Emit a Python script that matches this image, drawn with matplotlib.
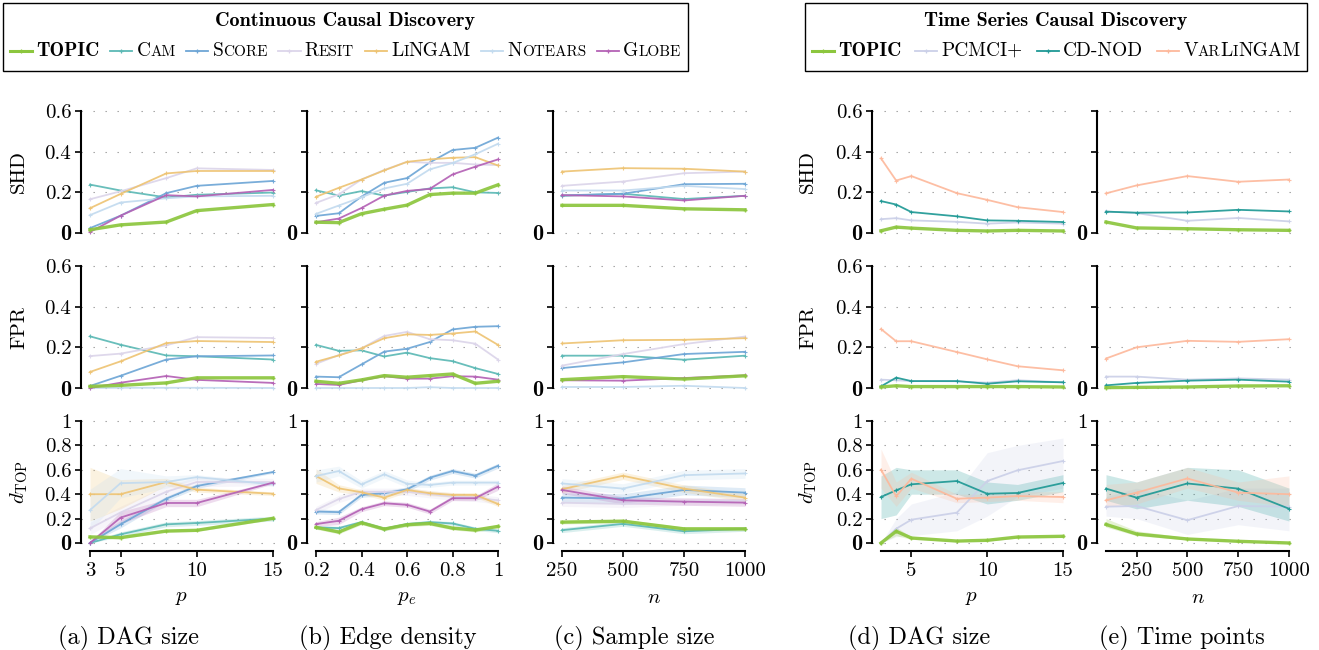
import numpy as np
import matplotlib
matplotlib.use("Agg")
import matplotlib.pyplot as plt
from itertools import groupby
from matplotlib.patches import Rectangle
from matplotlib.lines import Line2D
from matplotlib.offsetbox import (AnchoredOffsetbox, HPacker, TextArea,
                                  DrawingArea)

plt.rcParams['font.family'] = 'cmr10'
plt.rcParams['mathtext.fontset'] = 'cm'
plt.rcParams['axes.unicode_minus'] = False
plt.rcParams['axes.formatter.use_mathtext'] = True

W, H = 1319, 650

# ---- x values of each study
p_sizes = [3, 5, 8, 10, 15]
edge_density = [0.2, 0.3, 0.4, 0.5, 0.6, 0.7, 0.8, 0.9, 1.0]
sample_sizes = [250, 500, 750, 1000]
ts_p_sizes = [3, 4, 5, 8, 10, 12, 15]
ts_points = [100, 250, 500, 750, 1000]

cont_methods = ['TOPIC', 'Cam', 'Score', 'Resit', 'LiNGAM', 'Notears', 'Globe']
ts_methods = ['TOPIC', 'PCMCI+', 'CD-NOD', 'VarLiNGAM']

colors = {'TOPIC': '#8cc63e', 'Cam': '#5cb9b5', 'Score': '#6ea6d6',
          'Resit': '#dcd5ea', 'LiNGAM': '#eec474', 'Notears': '#c3dbef',
          'Globe': '#b462b5', 'PCMCI+': '#cbd0e8', 'CD-NOD': '#1f9995',
          'VarLiNGAM': '#fdb99c'}

# ---- (a) DAG size
shd_a = {'TOPIC': [0.016, 0.04, 0.054, 0.11, 0.14],
         'Cam': [0.238, 0.209, 0.175, 0.188, 0.199],
         'Score': [0.024, 0.085, 0.196, 0.232, 0.256],
         'Resit': [0.166, 0.205, 0.27, 0.318, 0.31],
         'LiNGAM': [0.122, 0.192, 0.293, 0.305, 0.305],
         'Notears': [0.088, 0.15, 0.171, 0.18, 0.183],
         'Globe': [0.005, 0.085, 0.186, 0.18, 0.212]}
fpr_a = {'TOPIC': [0.008, 0.013, 0.025, 0.05, 0.05],
         'Cam': [0.254, 0.213, 0.16, 0.156, 0.14],
         'Score': [0.01, 0.06, 0.14, 0.156, 0.16],
         'Resit': [0.157, 0.169, 0.21, 0.25, 0.246],
         'LiNGAM': [0.079, 0.131, 0.221, 0.231, 0.226],
         'Notears': [0.0, 0.001, 0.001, 0.001, 0.0],
         'Globe': [0.0, 0.026, 0.059, 0.04, 0.025]}
dtop_a = {'TOPIC': [0.05, 0.044, 0.098, 0.104, 0.202],
          'Cam': [0.0, 0.071, 0.153, 0.164, 0.2],
          'Score': [0.0, 0.153, 0.363, 0.467, 0.582],
          'Resit': [0.12, 0.25, 0.42, 0.5, 0.5],
          'LiNGAM': [0.40, 0.40, 0.50, 0.437, 0.404],
          'Notears': [0.27, 0.49, 0.5, 0.54, 0.48],
          'Globe': [0.0, 0.208, 0.328, 0.328, 0.495]}
spread_a = {'TOPIC': [0.01, 0.01, 0.01, 0.01, 0.01],
            'Cam': [0.01, 0.02, 0.02, 0.02, 0.02],
            'Score': [0.03, 0.03, 0.02, 0.02, 0.01],
            'Resit': [0.05, 0.05, 0.05, 0.04, 0.03],
            'LiNGAM': [0.22, 0.12, 0.03, 0.02, 0.015],
            'Notears': [0.17, 0.12, 0.05, 0.02, 0.015],
            'Globe': [0.01, 0.05, 0.03, 0.03, 0.01]}

# ---- (b) Edge density
shd_b = {'TOPIC': [0.053, 0.051, 0.095, 0.117, 0.137, 0.189, 0.196, 0.196, 0.237],
         'Cam': [0.21, 0.184, 0.206, 0.184, 0.202, 0.219, 0.225, 0.2, 0.197],
         'Score': [0.084, 0.097, 0.179, 0.247, 0.27, 0.347, 0.408, 0.419, 0.469],
         'Resit': [0.148, 0.19, 0.263, 0.31, 0.35, 0.345, 0.345, 0.337, 0.334],
         'LiNGAM': [0.178, 0.222, 0.263, 0.308, 0.35, 0.362, 0.37, 0.373, 0.332],
         'Notears': [0.094, 0.135, 0.176, 0.219, 0.242, 0.313, 0.344, 0.387, 0.439],
         'Globe': [0.053, 0.071, 0.123, 0.184, 0.207, 0.217, 0.288, 0.326, 0.362]}
fpr_b = {'TOPIC': [0.033, 0.023, 0.04, 0.061, 0.053, 0.061, 0.069, 0.023, 0.033],
         'Cam': [0.212, 0.183, 0.185, 0.155, 0.174, 0.147, 0.132, 0.098, 0.069],
         'Score': [0.056, 0.053, 0.116, 0.179, 0.193, 0.226, 0.288, 0.301, 0.304],
         'Resit': [0.119, 0.162, 0.195, 0.256, 0.276, 0.24, 0.235, 0.218, 0.14],
         'LiNGAM': [0.129, 0.16, 0.195, 0.245, 0.264, 0.261, 0.268, 0.278, 0.212],
         'Notears': [0.0, 0.0, 0.0, 0.0, 0.0, 0.004, 0.0, 0.0, 0.0],
         'Globe': [0.02, 0.015, 0.038, 0.058, 0.046, 0.046, 0.058, 0.056, 0.041]}
dtop_b = {'TOPIC': [0.128, 0.09, 0.166, 0.114, 0.15, 0.16, 0.122, 0.106, 0.136],
          'Cam': [0.128, 0.122, 0.171, 0.117, 0.155, 0.171, 0.16, 0.117, 0.1],
          'Score': [0.258, 0.253, 0.394, 0.408, 0.44, 0.535, 0.59, 0.552, 0.633],
          'Resit': [0.27, 0.36, 0.42, 0.42, 0.42, 0.40, 0.38, 0.37, 0.35],
          'LiNGAM': [0.549, 0.448, 0.416, 0.372, 0.435, 0.408, 0.394, 0.394, 0.32],
          'Notears': [0.549, 0.59, 0.48, 0.563, 0.486, 0.476, 0.495, 0.495, 0.495],
          'Globe': [0.155, 0.182, 0.277, 0.326, 0.313, 0.258, 0.367, 0.367, 0.462]}
spread_b = {'TOPIC': [0.015] * 9,
            'Cam': [0.015] * 9,
            'Score': [0.02] * 9,
            'Resit': [0.03] * 9,
            'LiNGAM': [0.06, 0.03, 0.02, 0.02, 0.02, 0.02, 0.02, 0.02, 0.02],
            'Notears': [0.05, 0.04, 0.03, 0.03, 0.03, 0.02, 0.02, 0.02, 0.02],
            'Globe': [0.02, 0.03, 0.02, 0.02, 0.02, 0.02, 0.02, 0.02, 0.03]}

# ---- (c) Sample size
shd_c = {'TOPIC': [0.136, 0.136, 0.119, 0.114],
         'Cam': [0.183, 0.193, 0.167, 0.183],
         'Score': [0.185, 0.193, 0.24, 0.242],
         'Resit': [0.232, 0.253, 0.294, 0.302],
         'LiNGAM': [0.302, 0.319, 0.316, 0.302],
         'Notears': [0.209, 0.209, 0.232, 0.216],
         'Globe': [0.186, 0.18, 0.16, 0.183]}
fpr_c = {'TOPIC': [0.041, 0.056, 0.044, 0.06],
         'Cam': [0.159, 0.159, 0.139, 0.159],
         'Score': [0.098, 0.126, 0.167, 0.178],
         'Resit': [0.11, 0.167, 0.216, 0.253],
         'LiNGAM': [0.219, 0.235, 0.237, 0.245],
         'Notears': [0.005, 0.005, 0.011, 0.0],
         'Globe': [0.038, 0.036, 0.049, 0.062]}
dtop_c = {'TOPIC': [0.171, 0.179, 0.116, 0.116],
          'Cam': [0.105, 0.157, 0.096, 0.116],
          'Score': [0.372, 0.364, 0.435, 0.413],
          'Resit': [0.33, 0.32, 0.34, 0.35],
          'LiNGAM': [0.441, 0.551, 0.446, 0.372],
          'Notears': [0.488, 0.446, 0.556, 0.57],
          'Globe': [0.435, 0.35, 0.339, 0.331]}
spread_c = {'TOPIC': [0.015] * 4, 'Cam': [0.02] * 4, 'Score': [0.04] * 4,
            'Resit': [0.03] * 4, 'LiNGAM': [0.03] * 4,
            'Notears': [0.04] * 4, 'Globe': [0.03] * 4}

# ---- (d) time series, DAG size
shd_d = {'TOPIC': [0.011, 0.029, 0.024, 0.013, 0.01, 0.013, 0.01],
         'PCMCI+': [0.068, 0.073, 0.062, 0.055, 0.046, 0.052, 0.046],
         'CD-NOD': [0.157, 0.14, 0.103, 0.082, 0.062, 0.06, 0.054],
         'VarLiNGAM': [0.367, 0.258, 0.28, 0.196, 0.163, 0.127, 0.103]}
fpr_d = {'TOPIC': [0.005, 0.011, 0.007, 0.007, 0.007, 0.007, 0.005],
         'PCMCI+': [0.041, 0.038, 0.034, 0.033, 0.026, 0.038, 0.028],
         'CD-NOD': [0.008, 0.051, 0.034, 0.034, 0.021, 0.033, 0.028],
         'VarLiNGAM': [0.29, 0.23, 0.23, 0.177, 0.141, 0.107, 0.087]}
dtop_d = {'TOPIC': [0.0, 0.096, 0.041, 0.016, 0.022, 0.049, 0.055],
          'PCMCI+': [0.0, 0.117, 0.191, 0.249, 0.508, 0.596, 0.672],
          'CD-NOD': [0.377, 0.432, 0.481, 0.508, 0.404, 0.41, 0.492],
          'VarLiNGAM': [0.601, 0.383, 0.527, 0.363, 0.372, 0.385, 0.377]}
low_d = {'TOPIC': [0.0, 0.06, 0.03, 0.01, 0.015, 0.04, 0.045],
         'PCMCI+': [0.0, 0.05, 0.06, 0.1, 0.22, 0.38, 0.45],
         'CD-NOD': [0.2, 0.23, 0.4, 0.4, 0.32, 0.35, 0.42],
         'VarLiNGAM': [0.45, 0.3, 0.45, 0.33, 0.34, 0.35, 0.33]}
high_d = {'TOPIC': [0.0, 0.13, 0.05, 0.02, 0.03, 0.055, 0.065],
          'PCMCI+': [0.0, 0.2, 0.32, 0.42, 0.74, 0.8, 0.86],
          'CD-NOD': [0.55, 0.62, 0.6, 0.6, 0.5, 0.48, 0.56],
          'VarLiNGAM': [0.77, 0.5, 0.58, 0.4, 0.4, 0.42, 0.42]}

# ---- (e) time series, time points
shd_e = {'TOPIC': [0.054, 0.025, 0.021, 0.016, 0.013],
         'PCMCI+': [0.106, 0.098, 0.06, 0.074, 0.057],
         'CD-NOD': [0.105, 0.1, 0.101, 0.114, 0.106],
         'VarLiNGAM': [0.195, 0.234, 0.28, 0.252, 0.263]}
fpr_e = {'TOPIC': [0.002, 0.003, 0.005, 0.01, 0.011],
         'PCMCI+': [0.056, 0.056, 0.041, 0.047, 0.041],
         'CD-NOD': [0.013, 0.025, 0.036, 0.041, 0.031],
         'VarLiNGAM': [0.145, 0.2, 0.232, 0.227, 0.24]}
dtop_e = {'TOPIC': [0.152, 0.074, 0.033, 0.014, 0.0],
          'PCMCI+': [0.298, 0.303, 0.187, 0.303, 0.298],
          'CD-NOD': [0.446, 0.372, 0.488, 0.446, 0.281],
          'VarLiNGAM': [0.35, 0.413, 0.529, 0.413, 0.4]}
low_e = {'TOPIC': [0.13, 0.06, 0.025, 0.01, 0.0],
         'PCMCI+': [0.22, 0.2, 0.07, 0.15, 0.1],
         'CD-NOD': [0.35, 0.28, 0.35, 0.3, 0.18],
         'VarLiNGAM': [0.3, 0.32, 0.45, 0.35, 0.3]}
high_e = {'TOPIC': [0.2, 0.1, 0.045, 0.02, 0.005],
          'PCMCI+': [0.38, 0.45, 0.35, 0.45, 0.45],
          'CD-NOD': [0.56, 0.5, 0.62, 0.6, 0.45],
          'VarLiNGAM': [0.48, 0.5, 0.62, 0.5, 0.55]}

x_ticks = [[3, 5, 10, 15], [0.2, 0.4, 0.6, 0.8, 1.0], [250, 500, 750, 1000],
           [5, 10, 15], [250, 500, 750, 1000]]
x_ticklabels = [['3', '5', '10', '15'], ['0.2', '0.4', '0.6', '0.8', '1'],
                ['250', '500', '750', '1000'], ['5', '10', '15'],
                ['250', '500', '750', '1000']]
x_labels = ['$p$', '$p_e$', '$n$', '$p$', '$n$']
captions = ['(a) DAG size', '(b) Edge density', '(c) Sample size',
            '(d) DAG size', '(e) Time points']
row_labels = ['SHD', 'FPR', r'$d_{\mathrm{TOP}}$']

# pixel geometry of the panels (data start / end, value top / zero)
col_px = [(90, 273), (316, 498), (562, 745), (881, 1063), (1106, 1289)]
row_px = [(111, 233), (266, 388), (421, 543)]
caption_x = [128, 388, 634, 919, 1182]


def make_axes(fig, col, row, xs, ymax):
    x0, x1 = col_px[col]
    yt, yb = row_px[row]
    left, right = x0 - 9, x1 + 5
    top, bottom = yt - 3, yb + 8
    ax = fig.add_axes([left / W, 1 - bottom / H, (right - left) / W,
                       (bottom - top) / H])
    ppx = (x1 - x0) / (xs[-1] - xs[0])
    ppy = (yb - yt) / ymax
    ax.set_xlim(xs[0] - 9 / ppx, xs[-1] + 5 / ppx)
    ax.set_ylim(-8 / ppy, ymax + 3 / ppy)

    for s in ['top', 'right']:
        ax.spines[s].set_visible(False)
    ax.spines['left'].set_bounds(0, ymax)
    ax.spines['left'].set_linewidth(1.5)

    if ymax < 1:
        yt_vals = [0, 0.2, 0.4, 0.6]
        full = ['0', '0.2', '0.4', '0.6']
        short = ['0', '', '', '']
    else:
        yt_vals = [0, 0.2, 0.4, 0.6, 0.8, 1.0]
        full = ['0', '0.2', '0.4', '0.6', '0.8', '1']
        short = ['0', '', '', '', '', '1']
    ax.set_yticks(yt_vals, full if col in (0, 3) else short)
    ax.tick_params(axis='y', direction='out', length=4, width=1.2,
                   labelsize=15, pad=3)
    # the zero label is set in bold
    for t in ax.get_yticklabels():
        if t.get_text() == '0':
            t.set_fontfamily('cmb10')
            t.set_fontsize(16)
    ax.yaxis.grid(True, linestyle=(0, (1.2, 9.6)), lw=0.8, color='#9a9a9a')
    ax.set_axisbelow(True)

    if row == 2:
        ax.spines['bottom'].set_bounds(xs[0], xs[-1])
        ax.spines['bottom'].set_linewidth(1.5)
        ax.set_xticks(x_ticks[col], x_ticklabels[col])
        ax.tick_params(axis='x', direction='out', length=4, width=1.2,
                       labelsize=15, pad=4)
    else:
        ax.spines['bottom'].set_visible(False)
        ax.set_xticks([])
    return ax


def draw_series(ax, xs, values, methods, low=None, high=None):
    for m in methods[1:] + methods[:1]:
        y = np.array(values[m])
        if low is not None:
            ax.fill_between(xs, low[m], high[m], color=colors[m], alpha=0.22,
                            lw=0, zorder=1)
        topic = (m == 'TOPIC')
        ax.plot(xs, y, color=colors[m], lw=2.4 if topic else 1.3,
                marker='+', ms=3.5 if topic else 3, mew=1.0 if topic else 0.8,
                zorder=5 if topic else 3, clip_on=False, alpha=0.92)


def spread_bounds(values, spread):
    low = {m: np.clip(np.array(values[m]) - np.array(spread[m]), 0, None)
           for m in values}
    high = {m: np.array(values[m]) + np.array(spread[m]) for m in values}
    return low, high


def label_box(label, size, bold=False):
    # small caps: lower case letters drawn as smaller capitals
    family = 'cmb10' if bold else 'cmr10'
    parts = []
    for low, grp in groupby(label, key=str.islower):
        txt = ''.join(grp)
        sz = size * 0.78 if low else size
        parts.append(TextArea(txt.upper(),
                              textprops=dict(size=sz, family=family)))
    return HPacker(children=parts, sep=0, pad=0, align='baseline')


def legend_row(methods, sep):
    entries = []
    for m in methods:
        da = DrawingArea(16, 8, 0, 0)
        lw = 2.2 if m == 'TOPIC' else 1.3
        da.add_artist(Line2D([0, 16], [3.6, 3.6], color=colors[m], lw=lw))
        da.add_artist(Line2D([8], [3.6], color=colors[m], marker='+', ms=3,
                             mew=0.9))
        lb = label_box(m, 14, bold=(m == 'TOPIC'))
        entries.append(HPacker(children=[da, lb], sep=3, pad=0,
                               align='baseline'))
    return HPacker(children=entries, sep=sep, pad=0, align='baseline')


def add_legend(fig, x0, x1, title, methods, sep):
    fig.add_artist(Rectangle((x0 / W, 1 - 71 / H), (x1 - x0) / W, 68 / H,
                             transform=fig.transFigure, fill=False,
                             ec='black', lw=1.0))
    cx = (x0 + x1) / 2
    fig.text(cx / W, 1 - 21 / H, title, ha='center', va='center',
             family='cmb10', size=14.5)
    ab = AnchoredOffsetbox(loc='center', child=legend_row(methods, sep),
                           pad=0, borderpad=0, frameon=False,
                           bbox_to_anchor=(cx / W, 1 - 51 / H),
                           bbox_transform=fig.transFigure)
    fig.add_artist(ab)


def plot_figure(save):
    fig = plt.figure(figsize=(W / 100, H / 100), dpi=100)

    panels = [
        (p_sizes, cont_methods, [shd_a, fpr_a, dtop_a],
         spread_bounds(dtop_a, spread_a)),
        (edge_density, cont_methods, [shd_b, fpr_b, dtop_b],
         spread_bounds(dtop_b, spread_b)),
        (sample_sizes, cont_methods, [shd_c, fpr_c, dtop_c],
         spread_bounds(dtop_c, spread_c)),
        (ts_p_sizes, ts_methods, [shd_d, fpr_d, dtop_d], (low_d, high_d)),
        (ts_points, ts_methods, [shd_e, fpr_e, dtop_e], (low_e, high_e)),
    ]

    for col, (xs, methods, rows, bands) in enumerate(panels):
        for row, values in enumerate(rows):
            ymax = 1.0 if row == 2 else 0.6
            ax = make_axes(fig, col, row, xs, ymax)
            if row == 2:
                draw_series(ax, xs, values, methods, bands[0], bands[1])
            else:
                draw_series(ax, xs, values, methods)

        cx = sum(col_px[col]) / 2
        fig.text(cx / W, 1 - 598 / H, x_labels[col], ha='center',
                 va='center', size=15)
        fig.text(caption_x[col] / W, 1 - 638 / H, captions[col],
                 ha='center', va='center', size=17.5)

    # row labels next to the first panel of each group
    for x in [19, 808]:
        for row, lab in enumerate(row_labels):
            cy = sum(row_px[row]) / 2
            fig.text(x / W, 1 - cy / H, lab, rotation=90, ha='center',
                     va='center', size=15)

    add_legend(fig, 3, 688, 'Continuous Causal Discovery', cont_methods, 7.5)
    add_legend(fig, 805, 1307, 'Time Series Causal Discovery', ts_methods, 10)

    fig.savefig(save, dpi=100, facecolor='white')


if __name__ == "__main__":
    plot_figure('out.png')
